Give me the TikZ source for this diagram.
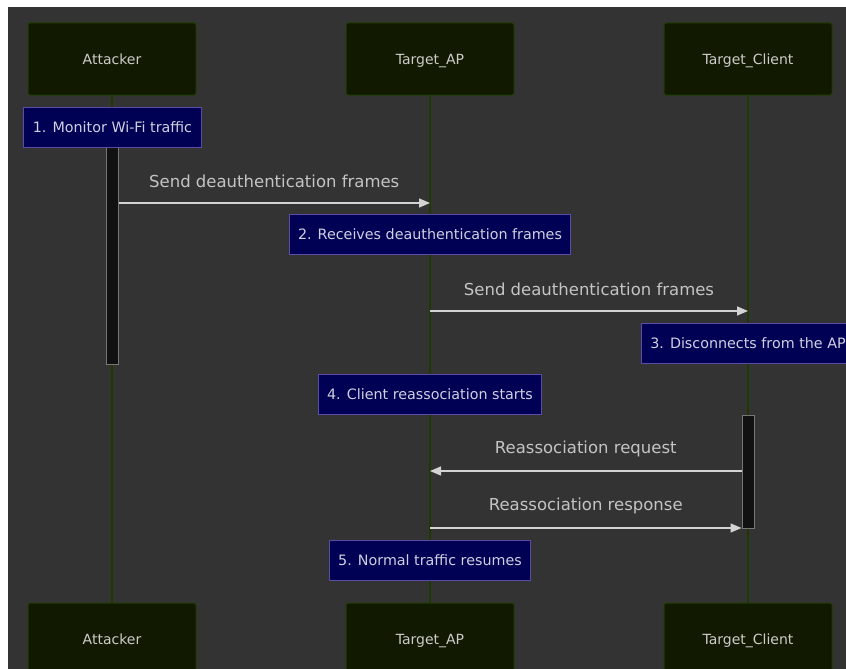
\documentclass[tikz,border=0pt]{standalone}
\usepackage{fontspec}
\setmainfont{DejaVu Sans}
\usetikzlibrary{arrows.meta, positioning, backgrounds}

\definecolor{bgdark}{HTML}{333333}
\definecolor{actorfill}{HTML}{111A00}
\definecolor{actorline}{HTML}{213D00}
\definecolor{lifeline}{HTML}{1F3A00}
\definecolor{notefill}{HTML}{000055}
\definecolor{noteline}{HTML}{5B4BA6}
\definecolor{notetext}{HTML}{D0D0E0}
\definecolor{actfill}{HTML}{111111}
\definecolor{actline}{HTML}{777777}
\definecolor{msgline}{HTML}{D3D3D3}
\definecolor{msgtext}{HTML}{C4C4C4}
\definecolor{actortext}{HTML}{CCCCCC}

\begin{document}
\begin{tikzpicture}[
    x=1pt, y=-1pt,
    actor/.style={rectangle, draw=actorline, fill=actorfill, rounded corners=2pt,
                  minimum width=168pt, minimum height=72pt, line width=1pt,
                  text height=13pt, text depth=3pt,
                  text=actortext, font=\fontsize{14}{17}\selectfont},
    note/.style={rectangle, draw=noteline, fill=notefill, line width=1pt,
                 minimum height=40pt, inner xsep=9pt, text=notetext,
                 font=\fontsize{14.3}{17}\selectfont},
    activation/.style={rectangle, draw=actline, fill=actfill, line width=1pt,
                       minimum width=12pt, inner sep=0pt},
    msg/.style={-{Triangle[length=11pt, width=9pt]}, draw=msgline, fill=msgline, line width=1.3pt},
    msglabel/.style={text=msgtext, font=\fontsize{16.5}{19}\selectfont, yshift=22pt},
    life/.style={draw=lifeline, line width=1.5pt}
]
\clip (0,0) rectangle (846,669);
\useasboundingbox (0,0) rectangle (846,669);

% participants, top and bottom
\node[actor] (attacker) at (112,59) {Attacker};
\node[actor] (ap) at (430,59) {Target\_AP};
\node[actor] (client) at (748,59) {Target\_Client};
\node[actor] (attackerb) at (112,639) {Attacker};
\node[actor] (apb) at (430,639) {Target\_AP};
\node[actor] (clientb) at (748,639) {Target\_Client};

% page and lifelines behind
\begin{scope}[on background layer]
\fill[white] (0,0) rectangle (846,669);
\fill[bgdark] (8,7) rectangle (846,669);
\draw[life] (attacker.south) -- (attackerb.north);
\draw[life] (ap.south) -- (apb.north);
\draw[life] (client.south) -- (clientb.north);
\end{scope}

% activations
\node[activation, minimum height=217pt] (actA) at (112,255.5) {};
\node[activation, minimum height=113pt] (actC) at (748,471.5) {};

% notes
\node[note] (n1) at (112.5,127) {1. Monitor Wi-Fi traffic};
\node[note] (n2) at (430,234.5) {2. Receives deauthentication frames};
\node[note] (n3) at (748,343) {3. Disconnects from the AP};
\node[note] (n4) at (430,394) {4. Client reassociation starts};
\node[note] (n5) at (430,560) {5. Normal traffic resumes};

% messages
\coordinate (m1) at (ap |- 0,203);
\coordinate (m2a) at (ap |- 0,311);
\coordinate (m2b) at (client |- 0,311);
\coordinate (m3) at (ap |- 0,471);
\coordinate (m4) at (ap |- 0,528);
\draw[msg] (actA.east |- m1) -- node[msglabel] {Send deauthentication frames} (m1);
\draw[msg] (m2a) -- node[msglabel] {Send deauthentication frames} (m2b);
\draw[msg] (actC.west |- m3) -- node[msglabel] {Reassociation request} (m3);
\draw[msg] (m4) -- node[msglabel] {Reassociation response} (actC.west |- m4);
\end{tikzpicture}
\end{document}
